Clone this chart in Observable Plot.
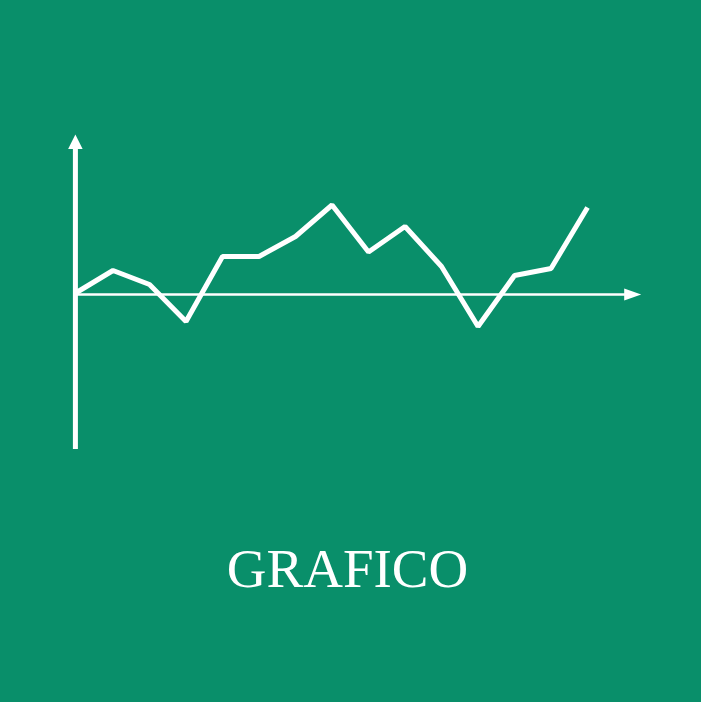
<!DOCTYPE html>
<html>
<head>
<meta charset="utf-8">
<script src="https://cdn.jsdelivr.net/npm/d3@7"></script>
<script src="https://cdn.jsdelivr.net/npm/@observablehq/plot@0.6"></script>
<style>
  html, body { margin: 0; padding: 0; background: #098F6A; width: 701px; height: 702px; overflow: hidden; }
  #wrap { position: relative; width: 701px; height: 702px; }
  #title { position: absolute; left: -3px; width: 701px; top: 542px; text-align: center;
           font-family: "Liberation Serif", "DejaVu Serif", serif; font-size: 55px; line-height: 54px; color: #fff; }
</style>
</head>
<body>
<div id="wrap">
  <div id="chart"></div>
  <div id="title">GRAFICO</div>
</div>
<script>
// Series (index along x, value above the horizontal axis)
const steps  = [0, 1, 2, 3, 4, 5, 6, 7, 8, 9, 10, 11, 12, 13, 14];
const values = [2, 24, 10, -27, 38, 38, 58, 89.5, 42.5, 68, 28, -32, 19, 26, 87];
// Axis extents
const xAxisEnd = 15.47;
const yAxisTop = 160;
const yAxisBottom = -155;

const data = steps.map((s, i) => ({x: s, y: values[i]}));

const arrowHead = (w, l) => ({
  draw(ctx) {
    ctx.moveTo(0, 0);
    ctx.lineTo(-w / 2, l);
    ctx.lineTo(w / 2, l);
    ctx.closePath();
  }
});

const chart = Plot.plot({
  width: 701,
  height: 500,
  marginLeft: 76,
  marginRight: 60.3,
  marginTop: 134,
  marginBottom: 51,
  style: {background: "transparent", overflow: "visible"},
  x: {domain: [0, xAxisEnd], axis: null},
  y: {domain: [yAxisBottom, yAxisTop], axis: null},
  marks: [
    // horizontal axis
    Plot.ruleY([0], {x1: 0, x2: xAxisEnd - 0.4, stroke: "white", strokeWidth: 2.5}),
    Plot.dot([{x: xAxisEnd, y: 0}], {x: "x", y: "y", symbol: arrowHead(12, 17), fill: "white", stroke: null, rotate: 90}),
    // vertical axis
    Plot.ruleX([-0.03], {y1: yAxisBottom, y2: yAxisTop - 12, stroke: "white", strokeWidth: 5}),
    Plot.dot([{x: -0.03, y: yAxisTop}], {x: "x", y: "y", symbol: arrowHead(14.5, 14.5), fill: "white", stroke: null}),
    // series line
    Plot.line(data, {x: "x", y: "y", stroke: "white", strokeWidth: 5, strokeLinejoin: "miter", strokeLinecap: "butt"})
  ]
});
document.getElementById("chart").appendChild(chart);
</script>
</body>
</html>
